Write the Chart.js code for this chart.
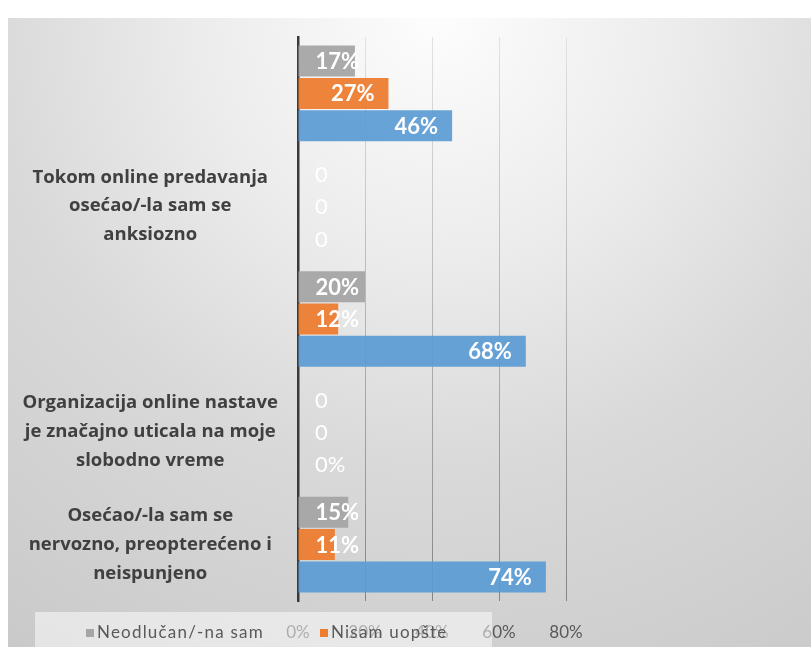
<!DOCTYPE html>
<html>
<head>
<meta charset="utf-8">
<script src="https://cdn.jsdelivr.net/npm/chart.js@4/dist/chart.umd.min.js"></script>
<style>
  body { margin: 0; width: 811px; height: 647px; background: #ffffff; position: relative; overflow: hidden; }
  #bg {
    position: absolute; left: 8px; top: 18px; width: 803px; height: 629px;
    background: radial-gradient(circle 790px at 430px 0px, #fdfdfd 0px, #ececec 240px, #d9d9d9 450px, #c8c8c8 790px);
  }
  #surveyChart { position: absolute; left: 0; top: 0; }
  #legendBox {
    position: absolute; left: 35px; top: 612px; width: 457px; height: 35px;
    background: rgba(255, 255, 255, 0.5);
  }
  .legendItem { position: absolute; top: 620px; font: 17px Lato, sans-serif; letter-spacing: 1.2px; color: #595959; line-height: 24px; }
  .legendItem i { display: inline-block; width: 8px; height: 8px; margin-right: 3px; vertical-align: 1px; }
</style>
</head>
<body>
<div id="bg"></div>
<canvas id="surveyChart" width="811" height="647"></canvas>
<div id="legendBox"></div>
<div class="legendItem" style="left:86px"><i style="background:#a5a5a5"></i>Neodlučan/-na sam</div>
<div class="legendItem" style="left:320px"><i style="background:#ed7d31"></i>Nisam uopšte</div>

<script>
// Categories (first and third rows have no label in the original)
const categories = [
  "",
  ["Tokom online predavanja", "osećao/-la sam se", "anksiozno"],
  "",
  ["Organizacija online nastave", "je značajno uticala na moje", "slobodno vreme"],
  ["Osećao/-la sam se", "nervozno, preopterećeno i", "neispunjeno"]
];

const neodlucanValues = [17, 0, 20, 0, 15];
const nisamValues = [27, 0, 12, 0, 11];
const daValues = [46, 0, 68, 0, 74];

const neodlucanLabels = ["17%", "0", "20%", "0", "15%"];
const nisamLabels = ["27%", "0", "12%", "0", "11%"];
const daLabels = ["46%", "0", "68%", "0%", "74%"];

const xTicks = [0, 20, 40, 60, 80];

// white value labels near the end of each bar
const barLabels = {
  id: "barLabels",
  afterDatasetsDraw(chart) {
    const ctx = chart.ctx;
    ctx.save();
    ctx.fillStyle = "#ffffff";
    ctx.textBaseline = "middle";
    ctx.textAlign = "left";
    chart.data.datasets.forEach((ds, i) => {
      chart.getDatasetMeta(i).data.forEach((bar, j) => {
        const text = ds.valueLabels[j];
        ctx.font = (ds.data[j] === 0 ? "" : "bold ") + "22px Lato";
        const w = ctx.measureText(text).width;
        const left = Math.max(bar.base + 17, bar.x - 14 - w);
        ctx.fillText(text, left, bar.y + 1);
      });
    });
    ctx.restore();
  }
};

function gridColor(context) {
  const chart = context.chart;
  const area = chart.chartArea;
  if (!area) {
    return "#bbbbbb";
  }
  const g = chart.ctx.createLinearGradient(0, area.top, 0, area.bottom);
  g.addColorStop(0, "#e2e2e2");
  g.addColorStop(1, "#858585");
  return g;
}

const ctx = document.getElementById("surveyChart").getContext("2d");

new Chart(ctx, {
  type: "bar",
  data: {
    labels: categories,
    datasets: [
      {
        label: "Neodlučan/-na sam",
        data: neodlucanValues,
        valueLabels: neodlucanLabels,
        backgroundColor: "rgba(165,165,165,0.95)"
      },
      {
        label: "Nisam uopšte",
        data: nisamValues,
        valueLabels: nisamLabels,
        backgroundColor: "rgba(237,125,49,0.95)"
      },
      {
        label: "Slažem se",
        data: daValues,
        valueLabels: daLabels,
        backgroundColor: "rgba(91,155,213,0.92)"
      }
    ]
  },
  options: {
    indexAxis: "y",
    responsive: false,
    animation: false,
    categoryPercentage: 0.86,
    barPercentage: 0.96,
    layout: {
      padding: { top: 37, right: 245, bottom: 5, left: 0 }
    },
    plugins: {
      legend: { display: false },
      tooltip: { enabled: false }
    },
    scales: {
      x: {
        min: 0,
        max: 80,
        afterBuildTicks: function(scale) {
          scale.ticks = xTicks.map(v => ({ value: v }));
        },
        afterFit: function(scale) {
          scale.height = 41;
        },
        grid: {
          color: gridColor,
          lineWidth: 1,
          drawTicks: false
        },
        border: { display: false },
        ticks: {
          padding: 21,
          color: "#595959",
          font: { family: "Lato", size: 17 },
          callback: function(value) {
            return value + "%";
          }
        }
      },
      y: {
        z: 1,
        afterFit: function(scale) {
          scale.width = 298;
          scale.paddingTop = 0;
          scale.paddingBottom = 0;
        },
        grid: { display: false, drawTicks: false },
        border: { display: true, color: "#3a3a3a", width: 2.5 },
        ticks: {
          autoSkip: false,
          crossAlign: "center",
          padding: 20,
          color: "#404040",
          font: { family: "Open Sans", size: 18.5, weight: "bold", lineHeight: 1.55 }
        }
      }
    }
  },
  plugins: [barLabels]
});
</script>
</body>
</html>
